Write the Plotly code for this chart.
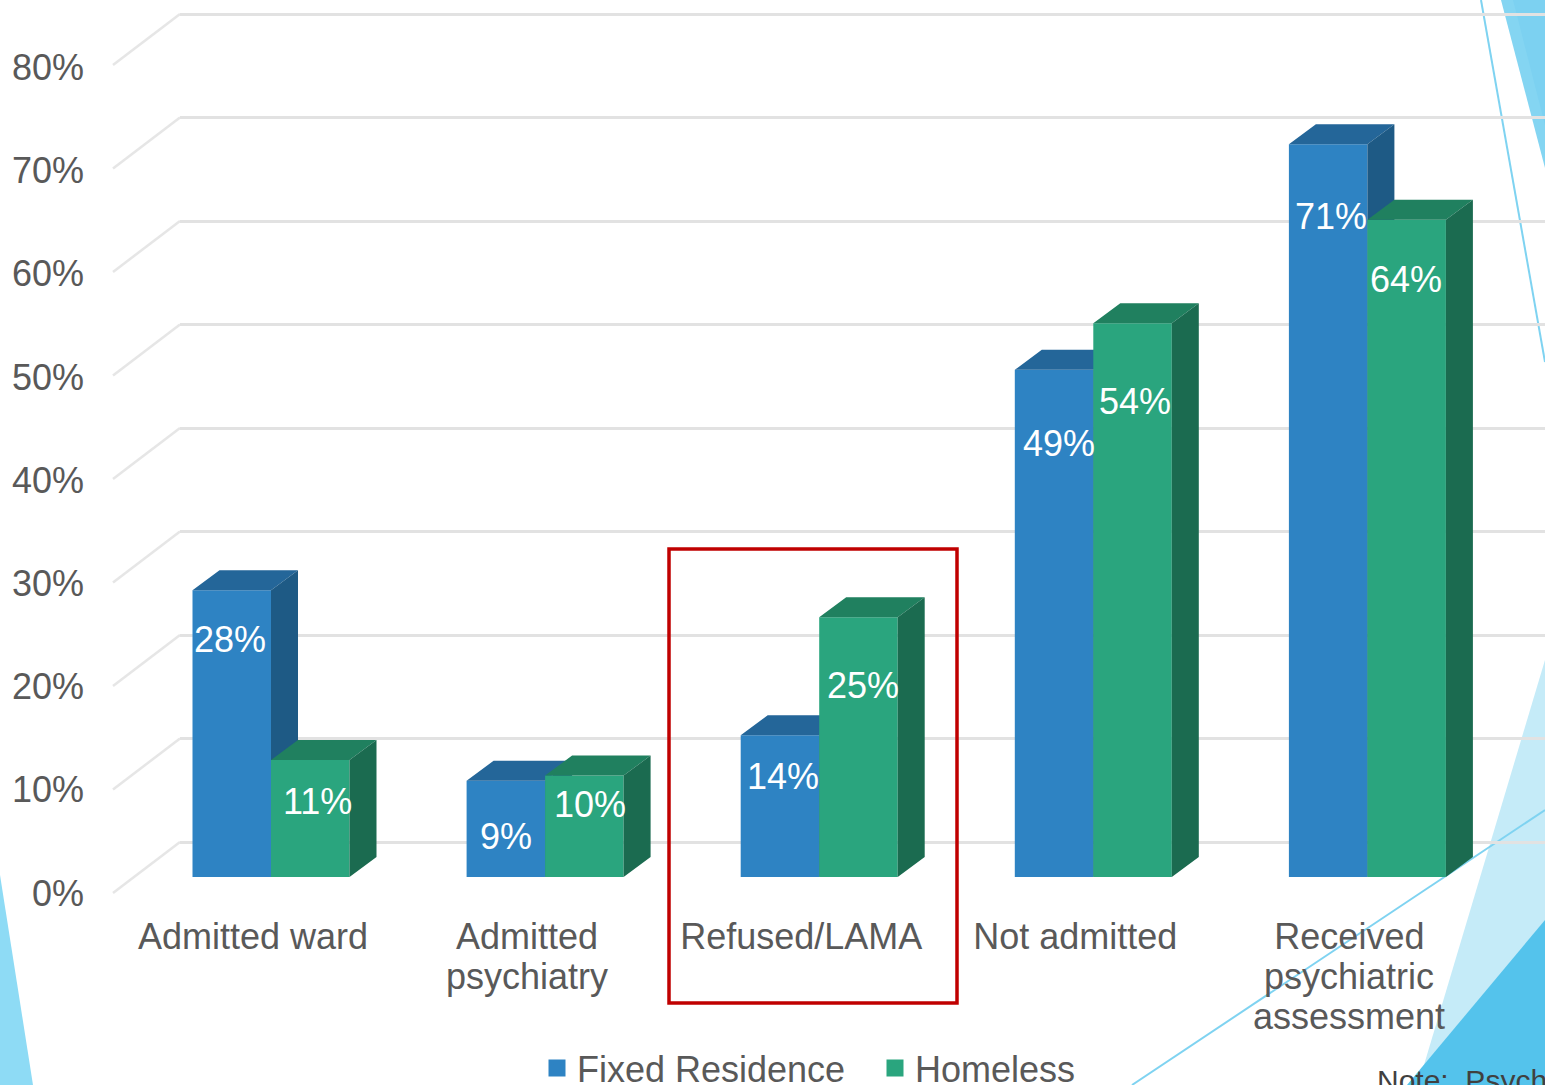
import plotly.graph_objects as go

CATEGORY_LINES = [["Admitted ward"], ["Admitted", "psychiatry"], ["Refused/LAMA"],
                  ["Not admitted"], ["Received", "psychiatric", "assessment"]]
FIXED_RESIDENCE = [27.7, 9.3, 13.7, 49.0, 70.8]
HOMELESS = [11.3, 9.8, 25.1, 53.5, 63.5]
Y_TICKS = [0, 10, 20, 30, 40, 50, 60, 70, 80]
SERIES_NAMES = ["Fixed Residence", "Homeless"]
NOTE_TEXT = "Note:\u00a0 Psych"

# ---- layout constants (pixels of the 1545x1085 picture)
W, H = 1545, 1085
K = 10.35          # px per percentage point
K_LABEL = 10.32    # px per percentage point of the value labels
STEP = 274.1       # px per category
C0 = 271.0         # px of first group's centre
BW = 78.5          # bar width px
DXP, DYP = 27, 20  # depth of the 3D extrusion px
FRONT0, BACK0, LABEL0 = 877, 842, 893
GRAY = "#595959"
FONT = "Liberation Sans"
BLUE, BLUE_TOP, BLUE_SIDE = "#2E83C3", "#246699", "#1E5A85"
GREEN, GREEN_TOP, GREEN_SIDE = "#2AA57E", "#20805F", "#1B6B50"
BLUE_DROP = [49, 56, 41, 74, 72]
GREEN_DROP = [41, 29, 68, 78, 60]
BLUE_NUDGE = [-2, 0, 3, 5, 3]
GREEN_NUDGE = [7, 6, 5, 2, -1]


def xu(p):
    return (p - C0) / STEP


def xp(p):
    return p / W


def yp(p):
    return 1 - p / H


w = BW / STEP
dx, dy = DXP / STEP, DYP / K


def faces(values, off):
    tx, ty, sx, sy = [], [], [], []
    for i, v in enumerate(values):
        x0, x1 = i + off, i + off + w
        tx += [x0, x0 + dx, x1 + dx, x1, x0, None]
        ty += [v, v + dy, v + dy, v, v, None]
        sx += [x1, x1 + dx, x1 + dx, x1, x1, None]
        sy += [0, dy, v + dy, v, 0, None]
    return tx, ty, sx, sy


fig = go.Figure()
idx = list(range(len(CATEGORY_LINES)))
for name, vals, off, col, top, side, ya in [
    (SERIES_NAMES[0], FIXED_RESIDENCE, -w, BLUE, BLUE_TOP, BLUE_SIDE, "y2"),
    (SERIES_NAMES[1], HOMELESS, 0, GREEN, GREEN_TOP, GREEN_SIDE, "y3"),
]:
    fig.add_trace(go.Bar(x=idx, y=vals, width=w, offset=off, marker_color=col, marker_line_width=0,
                         yaxis=ya, showlegend=False, name=name))
    tx, ty, sx, sy = faces(vals, off)
    for fx, fy, c in [(tx, ty, top), (sx, sy, side)]:
        fig.add_trace(go.Scatter(x=fx, y=fy, mode="lines", fill="toself", fillcolor=c, line_width=0,
                                 yaxis=ya, showlegend=False, hoverinfo="skip"))
    fig.add_trace(go.Bar(x=[None], y=[None], name=name, yaxis=ya,
                         marker=dict(color=col, line=dict(color=col, width=5))))

# invisible carrier of the main (back wall) axis
fig.add_trace(go.Scatter(x=[None], y=[None], yaxis="y", showlegend=False, hoverinfo="skip"))
# carrier of the value label axis
fig.add_trace(go.Scatter(x=[None], y=[None], yaxis="y4", showlegend=False, hoverinfo="skip"))

shapes = []
DECOR = [
    ("#84D5F2", [(1501, 0), (1545, 168), (1545, 0)]),
    ("#7CD1F1", [(1513, 0), (1545, 125), (1545, 0)]),
    ("#C5EBF8", [(1545, 660), (1418, 1085), (1545, 1085)]),
    ("#54C3EC", [(1545, 920), (1407, 1085), (1545, 1085)]),
    ("#8EDBF5", [(0, 875), (33, 1085), (0, 1085)]),
]
for c, pts in DECOR:
    path = "M" + " L".join(f"{xp(a):.5f},{yp(b):.5f}" for a, b in pts) + " Z"
    shapes.append(dict(type="path", path=path, xref="paper", yref="paper", fillcolor=c,
                       line_width=0, layer="below"))
for a, b, c, d in [(1481, 0, 1545, 362), (1132, 1085, 1545, 810)]:
    shapes.append(dict(type="line", xref="paper", yref="paper", x0=xp(a), y0=yp(b), x1=xp(c), y1=yp(d),
                       line=dict(color="#7FD3F1", width=2), layer="below"))
for v in Y_TICKS:
    shapes.append(dict(type="line", xref="paper", yref="y2", x0=xp(113),
                       y0=v - (LABEL0 - FRONT0) / K, x1=xp(180), y1=v + (FRONT0 - BACK0) / K,
                       line=dict(color="#E6E6E6", width=2.5), layer="below"))
shapes.append(dict(type="rect", xref="paper", yref="paper", x0=xp(669), x1=xp(957), y0=yp(549), y1=yp(1003),
                   line=dict(color="#C00000", width=3.5), layer="above"))

ann = []
tick_pos = [i + xu(253) for i in idx]
for i, lines in enumerate(CATEGORY_LINES):
    for j, t in enumerate(lines[1:], start=1):
        ann.append(dict(text=t, x=tick_pos[i], xref="x", y=yp(936 + 40 * j), yref="paper", xanchor="center",
                        yanchor="middle", showarrow=False, font=dict(size=36, color=GRAY, family=FONT)))
for vals, off, drops, nudges, ya in [(FIXED_RESIDENCE, -w / 2, BLUE_DROP, BLUE_NUDGE, "y2"),
                                     (HOMELESS, w / 2, GREEN_DROP, GREEN_NUDGE, "y3")]:
    for i, v in enumerate(vals):
        ann.append(dict(text=f"{v:.0f}%", x=i + off, xref="x", y=v, yref=ya, xanchor="center", yanchor="middle",
                        xshift=nudges[i], yshift=-drops[i], showarrow=False,
                        font=dict(size=36, color="white", family=FONT)))
ann.append(dict(text=NOTE_TEXT, x=xp(1375), xref="paper", y=yp(1080), yref="paper", xanchor="left", yanchor="middle",
                showarrow=False, font=dict(size=30, color="#404040", family=FONT)))

front_range = [(FRONT0 - H) / K, FRONT0 / K]
fig.update_layout(
    width=W, height=H, margin=dict(l=0, r=0, t=0, b=0, autoexpand=False), autosize=False,
    paper_bgcolor="white", plot_bgcolor="rgba(0,0,0,0)", barmode="overlay",
    font=dict(family=FONT, size=36, color=GRAY),
    shapes=shapes, annotations=ann,
    legend=dict(orientation="h", x=xp(537), xanchor="left", y=yp(1038), yanchor="top",
                font=dict(size=36, color=GRAY, family=FONT), entrywidth=293, entrywidthmode="pixels",
                bgcolor="rgba(0,0,0,0)", traceorder="normal"),
    xaxis=dict(domain=[xp(180), 1], range=[xu(180), xu(W)], anchor="free", position=yp(912),
               tickmode="array", tickvals=tick_pos, ticktext=[l[0] for l in CATEGORY_LINES],
               showgrid=False, zeroline=False, showline=False, ticks="", tickfont=dict(size=36, color=GRAY, family=FONT)),
    yaxis=dict(domain=[0, 1], range=[(BACK0 - H) / K, BACK0 / K], anchor="x", tickvals=Y_TICKS,
               showticklabels=False, showgrid=True, gridcolor="#E2E2E2", gridwidth=3, zeroline=False, showline=False, ticks=""),
    yaxis2=dict(overlaying="y", range=front_range, visible=False, showgrid=False, zeroline=False),
    yaxis3=dict(overlaying="y", range=front_range, visible=False, showgrid=False, zeroline=False),
    yaxis4=dict(overlaying="y", range=[(LABEL0 - H) / K_LABEL, LABEL0 / K_LABEL], anchor="free", position=xp(84), side="left",
                tickmode="array", tickvals=Y_TICKS, ticktext=[f"{v}%" for v in Y_TICKS],
                showgrid=False, zeroline=False, showline=False, ticks="", tickfont=dict(size=36, color=GRAY, family=FONT)),
)
fig.write_html("out.html", config={"displayModeBar": False},
               post_script="document.body.style.margin='0';document.documentElement.style.overflow='hidden';")
